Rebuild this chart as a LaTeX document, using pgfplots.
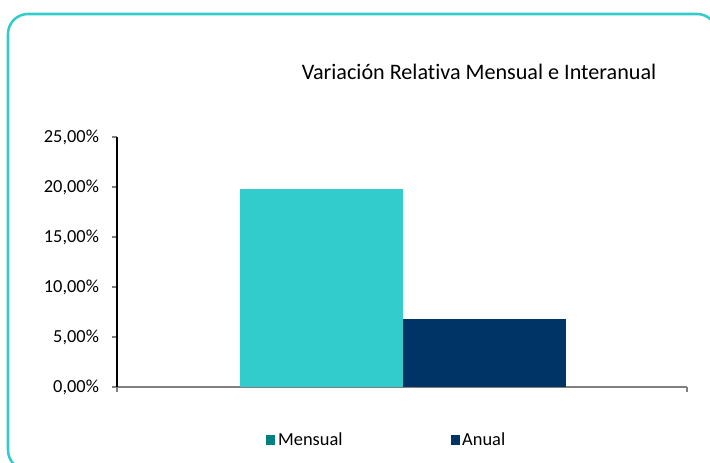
\documentclass[border=0pt]{standalone}
\usepackage{fontspec}
\setmainfont{Carlito}[Ligatures=NoCommon]
\usepackage{pgfplots}
\pgfplotsset{compat=1.18}
\definecolor{turq}{HTML}{33CCCC}
\definecolor{navy}{HTML}{003366}
\definecolor{tealleg}{HTML}{008080}
\definecolor{axgray}{HTML}{808080}
\begin{document}
\begin{tikzpicture}
\useasboundingbox (0,0) rectangle (532.5pt,347.25pt);
\clip (0,0) rectangle (532.5pt,347.25pt);
\draw[turq, line width=1.9pt, rounded corners=15pt] (6pt,336.75pt) rectangle (537.75pt,-5.25pt);
\node[font=\fontsize{16.6}{19}\selectfont] at (359.25pt,293.25pt) {Variación Relativa Mensual e Interanual};
\begin{axis}[
  at={(87.75pt,57pt)}, anchor=south west,
  scale only axis, width=427.5pt, height=187.5pt,
  xmin=0, xmax=1, ymin=0, ymax=25,
  axis lines*=left,
  x axis line style={axgray, line width=1pt},
  y axis line style={black, line width=0.8pt},
  tick align=outside, major tick length=4pt,
  xtick={0,1}, xticklabels={},
  x tick style={axgray, line width=0.8pt},
  y tick style={axgray, line width=0.8pt},
  ytick={0,5,10,15,20,25},
  yticklabels={{0,00\%},{5,00\%},{10,00\%},{15,00\%},{20,00\%},{25,00\%}},
  yticklabel style={font=\fontsize{13.8}{16}\selectfont, xshift=-6pt},
  ybar, bar width=0.286, 
  legend style={at={(0.474,-0.212)}, anchor=center, draw=none, legend columns=2,
    font=\fontsize{13.8}{16}\selectfont, /tikz/every even column/.append style={column sep=79pt}},
  legend image code/.code={\fill[#1] (-4.15pt,-3.4pt) rectangle (2.6pt,3.4pt);},
]
\addplot[fill=turq, draw=none, bar shift=0pt, forget plot] coordinates {(0.3588,19.8)};
\addplot[fill=navy, draw=none, bar shift=0pt, forget plot] coordinates {(0.6447,6.8)};
\addlegendimage{fill=tealleg, draw=none}
\addlegendentry{Mensual}
\addlegendimage{fill=navy, draw=none}
\addlegendentry{Anual}
\end{axis}
\end{tikzpicture}
\end{document}
